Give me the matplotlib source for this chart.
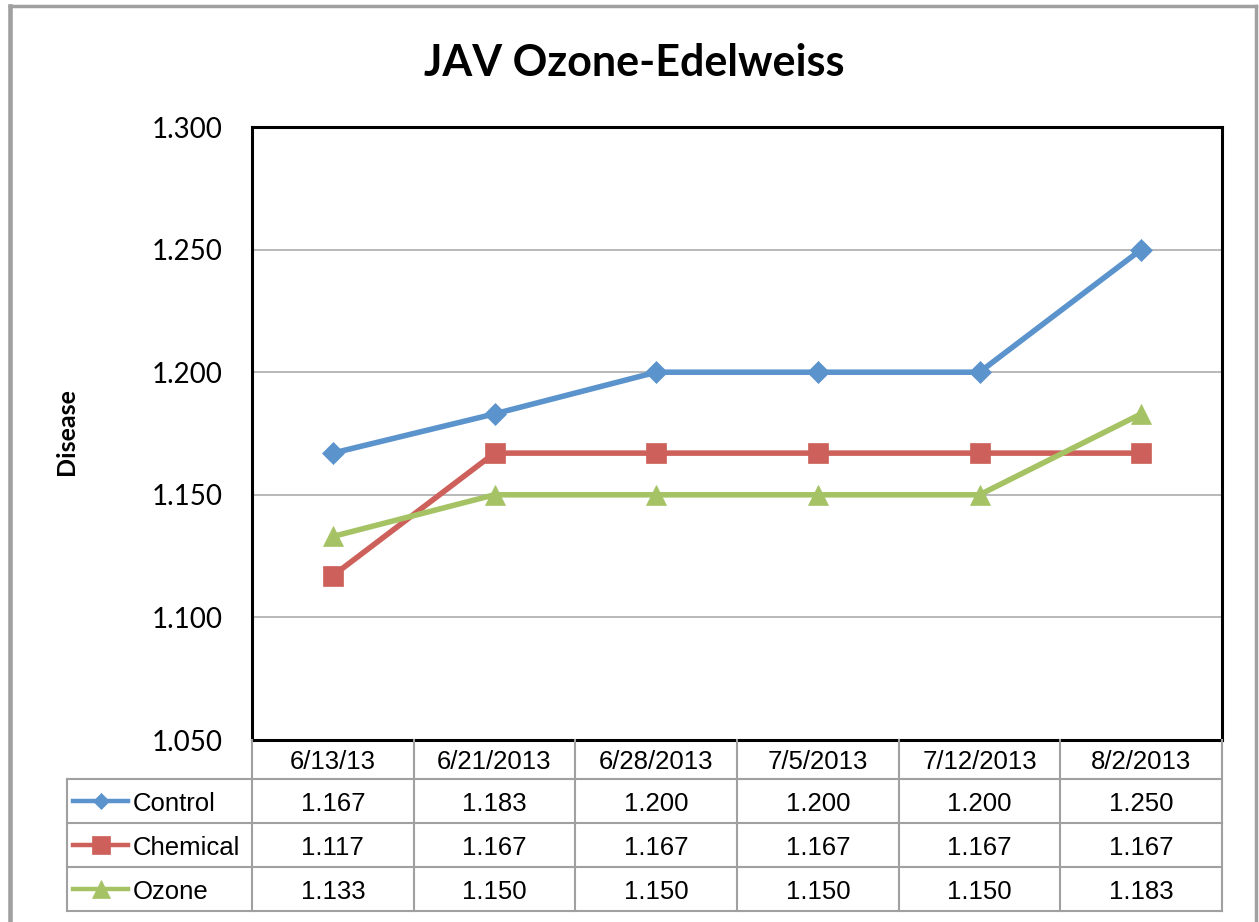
import matplotlib
matplotlib.use("Agg")
import matplotlib.pyplot as plt
from matplotlib.lines import Line2D

# chart data
dates = ["6/13/13", "6/21/2013", "6/28/2013", "7/5/2013", "7/12/2013", "8/2/2013"]
series_names = ["Control", "Chemical", "Ozone"]
control = [1.167, 1.183, 1.200, 1.200, 1.200, 1.250]
chemical = [1.117, 1.167, 1.167, 1.167, 1.167, 1.167]
ozone = [1.133, 1.150, 1.150, 1.150, 1.150, 1.183]
yticks = [1.05, 1.10, 1.15, 1.20, 1.25, 1.30]

# styles
colors = ["#5B93CD", "#CD605A", "#A5C365"]
markers = ["D", "s", "^"]
plot_ms = [11, 15, 15]
legend_ms = [8, 13, 13]
grid_gray = "#A6A6A6"
table_gray = "#A0A0A0"

W, H = 1259, 922


def px_rect(x0, y0, x1, y1):
    # pixel box (top-left origin) -> figure fraction rect
    return [x0 / W, 1 - y1 / H, (x1 - x0) / W, (y1 - y0) / H]


fig = plt.figure(figsize=(W / 100, H / 100), dpi=100)

# plot area
PL, PT, PR, PB = 252, 127, 1222, 740
ax = fig.add_axes(px_rect(PL, PT, PR, PB))
xs = list(range(len(dates)))
all_series = [control, chemical, ozone]
for vals, c, m, ms in zip(all_series, colors, markers, plot_ms):
    ax.plot(xs, vals, color=c, lw=4.0, marker=m, ms=ms, mec=c, mew=0.5,
            zorder=3, clip_on=False)

ax.set_xlim(-0.5, len(dates) - 0.5)
ax.set_ylim(yticks[0], yticks[-1])
ax.set_yticks(yticks)
ax.set_yticklabels([f"{v:.3f}" for v in yticks], fontsize=20, family="Lato")
ax.tick_params(axis="y", length=0, pad=21)
ax.set_xticks([])
ax.grid(axis="y", color=grid_gray, lw=1.1)
ax.set_axisbelow(True)
for s in ax.spines.values():
    s.set_linewidth(2.2)
    s.set_color("black")

# data table under the plot
TL, TB = 67, 911
col_w = (PR - PL) / len(dates)
header_h, row_h = 39, 44
ax_t = fig.add_axes(px_rect(TL, PB, PR, TB))
ax_t.set_xlim(-0.5 - (PL - TL) / col_w, len(dates) - 0.5)
ax_t.set_ylim(TB - PB, 0)
ax_t.axis("off")


def xp(px):
    # pixel x -> table column units
    return -0.5 + (px - PL) / col_w


line_kw = dict(color=table_gray, lw=1.5, clip_on=False, solid_capstyle="projecting")
row_edges = [header_h + row_h * r for r in range(len(series_names) + 1)]
left = xp(TL)
right = len(dates) - 0.5
for y in row_edges:
    ax_t.plot([left, right], [y, y], **line_kw)
for i in range(len(dates) + 1):
    ax_t.plot([i - 0.5, i - 0.5], [0, row_edges[-1]], **line_kw)
ax_t.plot([left, left], [row_edges[0], row_edges[-1]], **line_kw)

text_shift = 2.5  # nudge text down a bit to sit like the original
tfont = dict(family="Liberation Sans", fontsize=18.5, ha="center", va="center")
for i, d in enumerate(dates):
    ax_t.text(i, header_h / 2 + text_shift, d, **tfont)

for r, (name, vals) in enumerate(zip(series_names, all_series)):
    yc = header_h + row_h * r + row_h / 2
    for i, v in enumerate(vals):
        ax_t.text(i, yc + text_shift, f"{v:.3f}", **tfont)
    ax_t.plot([xp(73), xp(128)], [yc, yc], color=colors[r], lw=3.2, clip_on=False)
    ax_t.plot([xp(100.5)], [yc], marker=markers[r], ms=legend_ms[r], color=colors[r],
              mec=colors[r], mew=0.5, clip_on=False)
    ax_t.text(xp(133), yc + text_shift, name, family="Liberation Sans", fontsize=18.5,
              ha="left", va="center")

# titles
fig.text(634 / W, 1 - 63 / H, "JAV Ozone-Edelweiss", fontsize=31, fontweight="bold",
         family="Lato", ha="center", va="center")
fig.text(67 / W, 1 - 432 / H, "Disease", rotation=90, fontsize=18, fontweight="bold",
         family="Lato", ha="center", va="center")

# outer chart frame
frame = "#A0A0A0"
fig.add_artist(Line2D([10.5 / W, 10.5 / W], [0, 1 - 6 / H], transform=fig.transFigure,
                      color=frame, lw=3.3))
fig.add_artist(Line2D([10.5 / W, 1256 / W], [1 - 6 / H, 1 - 6 / H], transform=fig.transFigure,
                      color=frame, lw=2.5))
fig.add_artist(Line2D([1256 / W, 1256 / W], [0, 1 - 6 / H], transform=fig.transFigure,
                      color=frame, lw=2.5))

fig.savefig("out.png", dpi=100)
